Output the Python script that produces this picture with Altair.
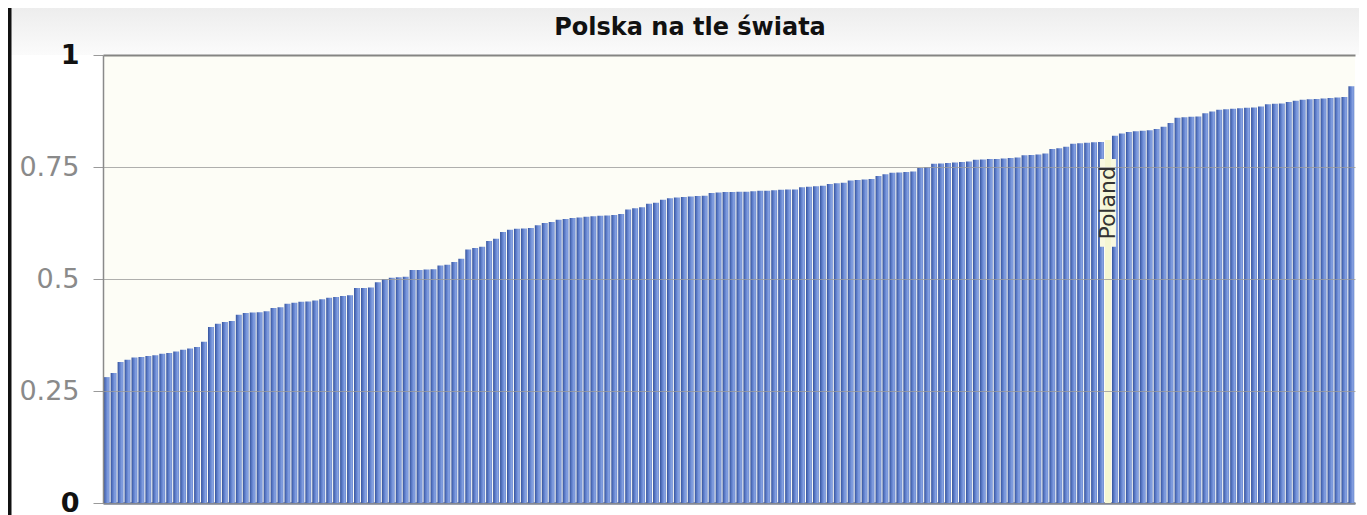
import altair as alt
import pandas as pd

TITLE = "Polska na tle świata"
HIGHLIGHT = "Poland"
HIGHLIGHT_INDEX = 144

# values, sorted ascending (one per country)
values = [
    0.281, 0.29, 0.315, 0.32,
    0.325, 0.326, 0.328, 0.33, 0.333, 0.335,
    0.338, 0.342, 0.345, 0.348,
    0.36,
    0.393,
    0.40, 0.404, 0.406,
    0.42, 0.424, 0.425, 0.426, 0.428,
    0.435, 0.437,
    0.445, 0.447, 0.449, 0.45, 0.452, 0.455, 0.458, 0.46, 0.462, 0.464,
    0.48, 0.48, 0.481,
    0.493,
    0.50, 0.503, 0.504, 0.505,
    0.52, 0.52, 0.521, 0.522,
    0.53, 0.532, 0.538,
    0.545,
    0.566, 0.569, 0.572,
    0.585, 0.59,
    0.605,
    0.61, 0.612, 0.613, 0.614,
    0.62, 0.625, 0.627,
    0.632, 0.634, 0.636, 0.637, 0.639, 0.64, 0.641, 0.642, 0.643, 0.645,
    0.655, 0.658, 0.66,
    0.668, 0.67,
    0.677, 0.68, 0.682, 0.683, 0.684, 0.685, 0.686,
    0.692, 0.693, 0.694, 0.694, 0.695, 0.695, 0.696, 0.697, 0.697, 0.698,
    0.699, 0.70, 0.70,
    0.705, 0.706, 0.707, 0.708,
    0.712, 0.714, 0.715,
    0.72, 0.721, 0.722, 0.723,
    0.73, 0.734, 0.737, 0.738,
    0.739, 0.74,
    0.748, 0.75,
    0.757, 0.758, 0.759, 0.76, 0.761, 0.762,
    0.766, 0.767, 0.768, 0.768, 0.769, 0.77, 0.771,
    0.776, 0.777, 0.778, 0.78,
    0.79, 0.792, 0.795,
    0.802, 0.803, 0.804, 0.805,
    0.806,
    0.81,
    0.82, 0.825,
    0.828, 0.83, 0.831, 0.832, 0.835,
    0.84,
    0.848,
    0.86, 0.861, 0.862, 0.863,
    0.87,
    0.874,
    0.878, 0.879, 0.88, 0.881, 0.882, 0.883, 0.885,
    0.89, 0.891, 0.892, 0.895,
    0.898, 0.9, 0.901, 0.902, 0.903, 0.904, 0.905,
    0.906, 0.93,
]
ranks = list(range(1, len(values) + 1))
names = [HIGHLIGHT if i == HIGHLIGHT_INDEX else "" for i in range(len(values))]
y_ticks = [0, 0.25, 0.5, 0.75, 1]

df = pd.DataFrame({"rank": ranks, "value": values, "name": names})

W, H = 1252, 448

x_enc = alt.X(
    "rank:O",
    scale=alt.Scale(paddingInner=0.15, paddingOuter=0.1),
    axis=alt.Axis(labels=False, ticks=False, title=None, domain=True,
                  domainColor="#39425c", domainWidth=2, grid=False),
)
y_enc = alt.Y(
    "value:Q",
    scale=alt.Scale(domain=[0, 1], nice=False),
    axis=alt.Axis(
        values=y_ticks, title=None, format=".2~f",
        labelFont="DejaVu Sans", labelFontSize=27,
        labelColor={"condition": {"test": "datum.value == 0 || datum.value == 1", "value": "#111111"}, "value": "#8a8a8a"},
        labelFontWeight={"condition": {"test": "datum.value == 0 || datum.value == 1", "value": "bold"}, "value": "normal"},
        labelPadding=14, tickSize=10, tickColor="#9a9a9a",
        domain=True, domainColor="#8a8a8a", domainWidth=1.5,
        grid=True,
        gridColor={"condition": {"test": "datum.value == 1", "value": "#666666"}, "value": "#9b9b9b"},
        gridWidth={"condition": {"test": "datum.value == 1", "value": 2}, "value": 1},
        gridOpacity=0.8,
        zindex=1,
    ),
)

blue = alt.Gradient(
    gradient="linear",
    stops=[
        alt.GradientStop(offset=0, color="#35529a"),
        alt.GradientStop(offset=0.35, color="#5b7bc8"),
        alt.GradientStop(offset=0.75, color="#86a2e2"),
        alt.GradientStop(offset=1, color="#6a88d0"),
    ],
    x1=0, x2=1, y1=0, y2=0,
)

band_df = pd.DataFrame({"k": [0]})
title_band = alt.Chart(band_df).mark_rect(
    color=alt.Gradient(
        gradient="linear",
        stops=[alt.GradientStop(offset=0, color="#ededed"),
               alt.GradientStop(offset=1, color="#fbfbfb")],
        x1=0, x2=0, y1=0, y2=1,
    )
).encode(x=alt.value(-93), x2=alt.value(W + 4), y=alt.value(-47), y2=alt.value(0))

title_text = alt.Chart(band_df).mark_text(
    text=TITLE, font="DejaVu Sans", fontSize=24, fontWeight="bold",
    color="#111111", align="center", baseline="alphabetic",
).encode(x=alt.value(587), y=alt.value(-20))

frame = alt.Chart(band_df).mark_rule(color="#111111", strokeWidth=4).encode(
    x=alt.value(-93.5), y=alt.value(-47), y2=alt.value(H + 14)
)

bars = alt.Chart(df).mark_bar(color=blue).encode(x=x_enc, y=y_enc).transform_filter(
    f"datum.name != '{HIGHLIGHT}'"
)

hl = alt.Chart(df).transform_filter(f"datum.name == '{HIGHLIGHT}'")
hl_bar = hl.mark_bar(color="#f5f6d2").encode(x="rank:O", y="value:Q")
hl_box = hl.mark_bar(color="#f8f8e0", size=16).encode(
    x="rank:O", y=alt.datum(0.572), y2=alt.datum(0.768)
)
hl_text = hl.mark_text(
    angle=270, align="right", baseline="middle", dx=-26,
    font="DejaVu Sans", fontSize=22, color="#333333",
).encode(x="rank:O", y="value:Q", text="name:N")

chart = (
    alt.layer(title_band, bars, hl_box, hl_bar, hl_text, title_text, frame)
    .properties(
        width=W, height=H,
        autosize=alt.AutoSizeParams(type="none"),
        padding={"left": 95, "top": 47, "right": 4, "bottom": 14},
        background="#ffffff",
    )
    .configure_view(fill="#fdfdf6", stroke=None)
)

chart.save("out.html", embed_options={"renderer": "svg", "actions": False})
